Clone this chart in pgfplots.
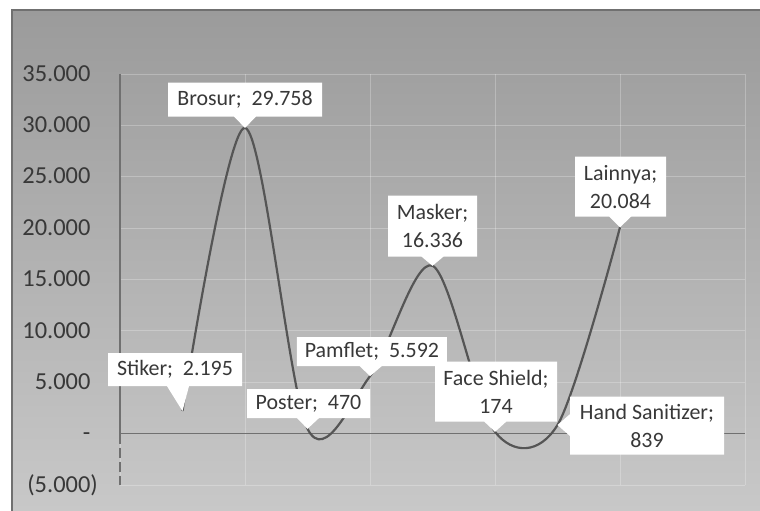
\documentclass[border=0pt]{standalone}
\usepackage{fontspec}
\setmainfont{Carlito}
\usepackage{pgfplots}
\pgfplotsset{compat=1.18}
\usetikzlibrary{shapes.callouts}
\definecolor{bgtop}{RGB}{155,155,155}
\definecolor{bgbot}{RGB}{200,200,200}
\definecolor{txt}{RGB}{56,56,56}
\definecolor{ln}{RGB}{85,85,85}
\definecolor{frame}{RGB}{112,112,112}
\begin{document}
\begin{tikzpicture}[x=1bp,y=1bp,
  lbl/.style={rectangle callout, fill=white, draw=none, inner sep=0pt, text=txt,
    font=\fontsize{22}{28}\selectfont, align=center, callout pointer width=22bp}]
\useasboundingbox (0,0) rectangle (760,511);
\fill[white] (0,0) rectangle (760,511);
\shade[top color=bgtop, bottom color=bgbot] (12,0) rectangle (760,501);
\draw[frame, line width=2bp] (12,0) -- (12,501) -- (760,501);
\begin{axis}[
  at={(120bp,26bp)}, anchor=south west, scale only axis,
  width=625bp, height=411bp,
  xmin=0, xmax=10, ymin=-5000, ymax=35000,
  axis line style={draw=none},
  scaled y ticks=false,
  xtick={0,2,...,10}, xticklabels={},
  ytick={-5000,0,5000,10000,15000,20000,25000,30000,35000},
  yticklabels={{(5.000)},{-\phantom{)}},{5.000\phantom{)}},{10.000\phantom{)}},{15.000\phantom{)}},{20.000\phantom{)}},{25.000\phantom{)}},{30.000\phantom{)}},{35.000\phantom{)}}},
  major tick length=0pt,
  grid=major, grid style={white, opacity=0.25, line width=0.8bp},
  yticklabel style={font=\fontsize{24.5}{24.5}\selectfont, text=txt, anchor=east, inner sep=0pt, xshift=-22bp},
  clip=false,
]
\addplot[frame, line width=1.5bp, no markers] coordinates {(0,0) (10,0)};
\draw[frame, line width=1.5bp] (axis cs:0,35000) -- (axis cs:0,0);
\draw[frame, line width=1.5bp, dash pattern=on 10bp off 4bp] (axis cs:0,0) -- (axis cs:0,-5000);
\addplot[ln, line width=2.2bp, smooth, tension=0.52, no markers] coordinates {
  (1,2195) (2,29758) (3,470) (4,5592) (5,16336) (6,174) (7,839) (8,20084)};
\node[lbl, minimum width=154bp, minimum height=34bp, callout absolute pointer={(axis cs:2,29758)}] at (axis cs:2,32506) {Brosur;\ \ 29.758};
\node[lbl, minimum width=134bp, minimum height=33bp, callout absolute pointer={(axis cs:1,2195)}] at (axis cs:0.88,6229) {Stiker;\ \ 2.195};
\node[lbl, minimum width=123bp, minimum height=29bp, callout absolute pointer={(axis cs:3,470)}] at (axis cs:3.016,2920) {Poster;\ \ 470};
\node[lbl, minimum width=150bp, minimum height=29bp, callout absolute pointer={(axis cs:4,5592)}] at (axis cs:4.03,7980) {Pamflet;\ \ 5.592};
\node[lbl, minimum width=89bp, minimum height=61bp, callout absolute pointer={(axis cs:5,16336)}] at (axis cs:5,20195) {Masker;\\16.336};
\node[lbl, minimum width=122bp, minimum height=60bp, callout absolute pointer={(axis cs:6,174)}] at (axis cs:6.016,4088) {Face Shield;\\174};
\node[lbl, minimum width=154bp, minimum height=58bp, callout absolute pointer={(axis cs:7,839)}] at (axis cs:8.432,779) {Hand Sanitizer;\\839};
\node[lbl, minimum width=91bp, minimum height=60bp, callout absolute pointer={(axis cs:8,20084)}] at (axis cs:8.008,24039) {Lainnya;\\20.084};
\end{axis}
\end{tikzpicture}
\end{document}
